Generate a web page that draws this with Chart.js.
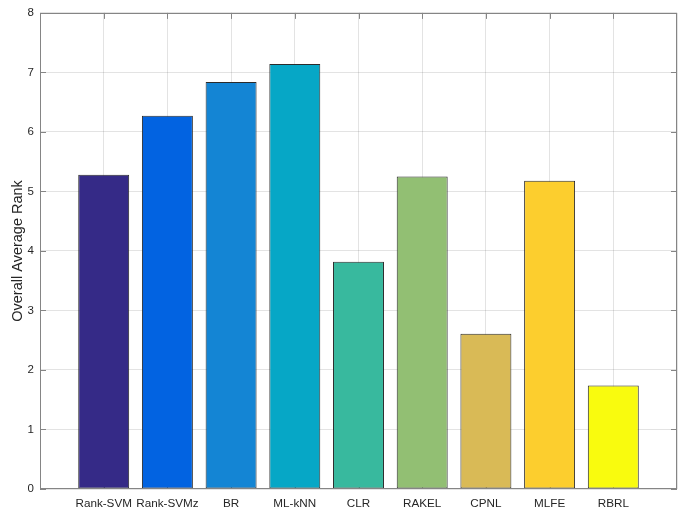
<!DOCTYPE html>
<html><head><meta charset="utf-8">
<script src="https://cdn.jsdelivr.net/npm/chart.js@4/dist/chart.umd.min.js"></script>
<style>html,body{margin:0;padding:0;background:#fff}#wrap{width:692px;height:518px}</style>
</head><body><div id="wrap"><canvas id="c" width="692" height="518"></canvas></div>
<script>
const categories = ['Rank-SVM','Rank-SVMz','BR','ML-kNN','CLR','RAKEL','CPNL','MLFE','RBRL'];
const rankValues = [5.28, 6.27, 6.84, 7.14, 3.82, 5.25, 2.61, 5.18, 1.74];
const barColors = ['#352a87','#0263e1','#1485d4','#06a7c6','#38b99e','#92bf73','#d9ba56','#fcce2e','#f9fb0e'];
const yTicks = [0,1,2,3,4,5,6,7,8];
const yTitle = 'Overall Average Rank';

const labels = [''].concat(categories, ['']);
const data = [null].concat(rankValues, [null]);
const colors = ['#fff'].concat(barColors, ['#fff']);
const FONT = "'Liberation Sans', Arial, Helvetica, sans-serif";
const AX = '#858585';

const axesPlugin = {
  id: 'axesBox',
  beforeDatasetsDraw(chart) {
    const {ctx, chartArea: a, scales: {x, y}} = chart;
    ctx.save();
    ctx.strokeStyle = AX; ctx.lineWidth = 1;
    ctx.beginPath();
    for (let i = 1; i <= categories.length; i++) {
      const px = Math.round(x.getPixelForValue(i)) + 0.5;
      ctx.moveTo(px, a.top); ctx.lineTo(px, a.top + 6);
      ctx.moveTo(px, a.bottom); ctx.lineTo(px, a.bottom - 6);
    }
    yTicks.forEach(v => {
      const py = Math.round(y.getPixelForValue(v)) + 0.5;
      ctx.moveTo(a.left, py); ctx.lineTo(a.left + 6, py);
      ctx.moveTo(a.right, py); ctx.lineTo(a.right - 6, py);
    });
    ctx.stroke();
    ctx.restore();
  },
  afterDatasetsDraw(chart) {
    const {ctx, chartArea: a} = chart;
    ctx.save();
    ctx.strokeStyle = AX; ctx.lineWidth = 1;
    ctx.strokeRect(Math.round(a.left) + 0.5, Math.round(a.top) + 0.5, Math.round(a.right - a.left) - 1, Math.round(a.bottom - a.top) - 1);
    ctx.restore();
  }
};

new Chart(document.getElementById('c'), {
  type: 'bar',
  data: {
    labels: labels,
    datasets: [{
      data: data,
      backgroundColor: colors,
      borderColor: '#2b2b2b',
      borderWidth: 1,
      borderSkipped: false,
      categoryPercentage: 1,
      barPercentage: 0.8
    }]
  },
  options: {
    responsive: false,
    animation: false,
    devicePixelRatio: 1,
    layout: { padding: { top: 11, right: 15, left: 0, bottom: 0 } },
    plugins: { legend: { display: false }, tooltip: { enabled: false } },
    scales: {
      x: {
        type: 'category',
        offset: false,
        grid: { color: 'rgba(38,38,38,0.13)', drawTicks: false, offset: false },
        border: { display: false },
        ticks: { color: '#262626', font: { family: FONT, size: 11.7 }, padding: 8, maxRotation: 0, autoSkip: false },
        afterFit(s) { s.height = 29; }
      },
      y: {
        min: 0, max: 8,
        grid: { color: 'rgba(38,38,38,0.13)', drawTicks: false },
        border: { display: false },
        ticks: { stepSize: 1, color: '#262626', font: { family: FONT, size: 11.5 }, padding: 6 },
        title: { display: true, text: yTitle, color: '#262626', font: { family: FONT, size: 14.5 }, padding: { top: 9, bottom: 0 } },
        afterFit(s) { s.width = 40; }
      }
    }
  },
  plugins: [axesPlugin]
});
</script></body></html>
